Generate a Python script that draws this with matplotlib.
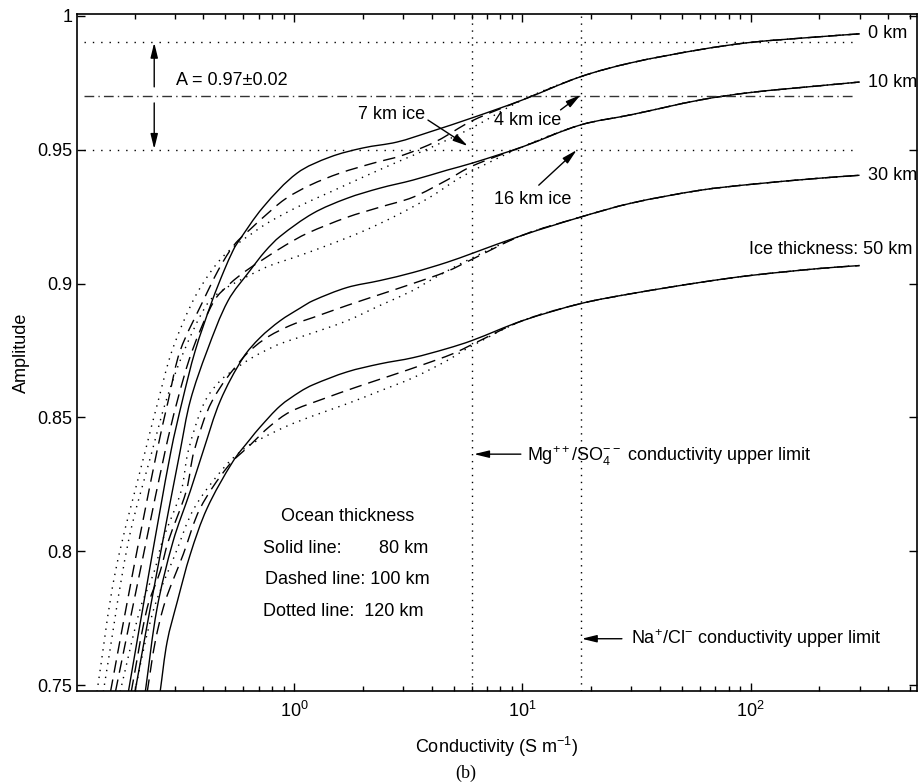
import numpy as np
import matplotlib
matplotlib.use('Agg')
import matplotlib.pyplot as plt
from matplotlib.ticker import LogLocator, NullFormatter, FixedLocator
from matplotlib.path import Path
from matplotlib.patches import PathPatch

plt.rcParams['font.family'] = ['Liberation Sans', 'DejaVu Sans']
plt.rcParams['mathtext.fontset'] = 'custom'
plt.rcParams['mathtext.rm'] = 'Liberation Sans'
plt.rcParams['mathtext.it'] = 'Liberation Sans:italic'
plt.rcParams['mathtext.bf'] = 'Liberation Sans:bold'

# ---- data ----
# high-conductivity part, common to the three ocean thicknesses
x_flat = [10, 18, 30, 60, 100, 200, 300]
y_flat_0 = [0.9685, 0.9772, 0.9824, 0.9873, 0.9900, 0.9921, 0.9932]
y_flat_10 = [0.9510, 0.9592, 0.9630, 0.9685, 0.9713, 0.9738, 0.9752]
y_flat_30 = [0.9180, 0.9248, 0.9300, 0.9348, 0.9370, 0.9393, 0.9404]
y_flat_50 = [0.8861, 0.8925, 0.8962, 0.9004, 0.9030, 0.9056, 0.9067]

# ice 0 km
x_s0 = [0.188, 0.232, 0.289, 0.324, 0.369, 0.438, 0.494, 0.541, 0.5634, 0.732, 1.031, 1.437, 2.004, 2.824, 3.937, 6.01]
y_s0 = [0.7476, 0.7925, 0.8375, 0.8562, 0.8749, 0.8936, 0.9049, 0.9124, 0.9150, 0.9285, 0.9412, 0.9472, 0.9506, 0.9528, 0.9566, 0.9618]
x_d0 = [0.157, 0.197, 0.251, 0.281, 0.317, 0.400, 0.465, 0.525, 0.569, 0.642, 0.724, 0.913, 1.175, 1.589, 2.217, 2.999, 4.226, 6.01]
y_d0 = [0.7476, 0.7925, 0.8375, 0.8562, 0.8749, 0.8936, 0.9049, 0.9124, 0.9161, 0.9202, 0.9243, 0.9315, 0.9367, 0.9412, 0.9449, 0.9479, 0.9532, 0.9607]
x_o0 = [0.137, 0.165, 0.223, 0.254, 0.292, 0.361, 0.429, 0.494, 0.569, 0.655, 0.762, 1.031, 1.437, 2.004, 2.824, 3.937, 6.01]
y_o0 = [0.7476, 0.7925, 0.8375, 0.8562, 0.8749, 0.8936, 0.9041, 0.9105, 0.9150, 0.9187, 0.9225, 0.9285, 0.9341, 0.9397, 0.9453, 0.9506, 0.9581]

# ice 10 km
x_s10 = [0.201, 0.251, 0.317, 0.351, 0.416, 0.514, 0.642, 0.7466, 0.869, 1.211, 1.706, 2.378, 3.317, 4.673, 6.01]
y_s10 = [0.7476, 0.7925, 0.8375, 0.8562, 0.8749, 0.8936, 0.9049, 0.9120, 0.9176, 0.9262, 0.9318, 0.9356, 0.9386, 0.9423, 0.9449]
x_d10 = [0.165, 0.225, 0.2725, 0.308, 0.358, 0.447, 0.525, 0.610, 0.732, 0.913, 1.140, 1.706, 2.378, 3.317, 4.673, 6.01]
y_d10 = [0.7476, 0.8037, 0.8375, 0.8562, 0.8749, 0.8936, 0.9000, 0.9045, 0.9090, 0.9142, 0.9187, 0.9247, 0.9285, 0.9322, 0.9386, 0.9438]
x_o10 = [0.146, 0.188, 0.239, 0.275, 0.330, 0.4204, 0.499, 0.610, 0.7695, 1.031, 1.437, 2.004, 2.824, 3.937, 5.49]
y_o10 = [0.7476, 0.8037, 0.8375, 0.8562, 0.8749, 0.8929, 0.8981, 0.9022, 0.9064, 0.9101, 0.9146, 0.9195, 0.9255, 0.9322, 0.9401]

# ice 30 km
x_s30 = [0.223, 0.251, 0.295, 0.351, 0.400, 0.475, 0.598, 0.710, 0.869, 1.062, 1.211, 1.706, 2.378, 3.317, 4.673, 6.01]
y_s30 = [0.7476, 0.7787, 0.8037, 0.8225, 0.8375, 0.8562, 0.8723, 0.8798, 0.8861, 0.8908, 0.8936, 0.8985, 0.9011, 0.9041, 0.9079, 0.9112]
x_d30 = [0.1935, 0.227, 0.259, 0.281, 0.337, 0.365, 0.438, 0.598, 0.747, 0.9605, 1.211, 1.706, 2.378, 3.317, 4.673, 6.01]
y_d30 = [0.7476, 0.7787, 0.7925, 0.8037, 0.8225, 0.8375, 0.8562, 0.8723, 0.8794, 0.8843, 0.8873, 0.8918, 0.8959, 0.9000, 0.9045, 0.9090]
x_o30 = [0.173, 0.212, 0.244, 0.2645, 0.320, 0.344, 0.4037, 0.4746, 0.5687, 0.655, 0.747, 0.869, 1.211, 1.706, 2.378, 3.317, 3.937, 5.72]
y_o30 = [0.7476, 0.7787, 0.7925, 0.8037, 0.8225, 0.8375, 0.8554, 0.8637, 0.8689, 0.8723, 0.8749, 0.8775, 0.8816, 0.8861, 0.8918, 0.8974, 0.9011, 0.9086]

# ice 50 km
x_s50 = [0.259, 0.278, 0.308, 0.351, 0.416, 0.541, 0.642, 0.710, 0.869, 1.062, 1.211, 1.706, 2.378, 3.317, 4.673, 6.01]
y_s50 = [0.7476, 0.7663, 0.7813, 0.7989, 0.8161, 0.8337, 0.8419, 0.8464, 0.8543, 0.8596, 0.8622, 0.8670, 0.8700, 0.8723, 0.8757, 0.8787]
x_d50 = [0.2274, 0.2465, 0.2725, 0.327, 0.388, 0.514, 0.642, 0.7853, 0.9605, 1.339, 1.887, 2.630, 3.670, 4.966, 6.01]
y_d50 = [0.7476, 0.7663, 0.7813, 0.7989, 0.8161, 0.8318, 0.8397, 0.8468, 0.8521, 0.8569, 0.8614, 0.8655, 0.8697, 0.8738, 0.8772]
x_o50 = [0.201, 0.223, 0.249, 0.3014, 0.365, 0.499, 0.610, 0.710, 0.932, 1.211, 1.706, 2.378, 3.317, 4.673, 5.72]
y_o50 = [0.7476, 0.7663, 0.7813, 0.7989, 0.8161, 0.8318, 0.8386, 0.8419, 0.8468, 0.8506, 0.8551, 0.8599, 0.8648, 0.8712, 0.8757]

ice_labels = ['0 km', '10 km', '30 km', 'Ice thickness: 50 km']
amp_levels = [0.99, 0.97, 0.95]
cond_limits = [6.0, 18.0]
y_ticks = [0.75, 0.8, 0.85, 0.9, 0.95, 1.0]
y_ticklabels = ['0.75', '0.8', '0.85', '0.9', '0.95', '1']


def smooth_path(xs, ys):
    """Smooth Bezier path passing through the read points (log-x space)."""
    lx = np.log10(np.asarray(xs, float))
    yy = np.asarray(ys, float)
    P = np.column_stack([lx, yy])
    S = np.array([228.5, 2680.0])
    d = np.sqrt((((P[1:] - P[:-1]) * S) ** 2).sum(axis=1))
    d[d == 0] = 1e-6
    t = np.concatenate([[0], np.cumsum(d)])
    n = len(P)
    m = np.zeros_like(P)
    for i in range(n):
        a = max(i - 1, 0)
        b = min(i + 1, n - 1)
        m[i] = (P[b] - P[a]) / (t[b] - t[a])
    verts = [P[0]]
    codes = [Path.MOVETO]
    for i in range(n - 1):
        h = t[i + 1] - t[i]
        verts += [P[i] + m[i] * h / 3, P[i + 1] - m[i + 1] * h / 3, P[i + 1]]
        codes += [Path.CURVE4] * 3
    V = np.array(verts)
    V[:, 0] = 10 ** V[:, 0]
    return Path(V, codes)


# ---- figure ----
fig = plt.figure(figsize=(9.18, 7.82), dpi=100)
ax = fig.add_axes([0.0839, 0.1164, 0.9145, 0.8657])
ax.set_xscale('log')
ax.set_xlim(0.112, 533)
ax.set_ylim(0.7479, 1.0006)

dash = (0, (9, 5))
dot = (0, (1, 4))
groups = [
    (x_s0, y_s0, x_d0, y_d0, x_o0, y_o0, y_flat_0),
    (x_s10, y_s10, x_d10, y_d10, x_o10, y_o10, y_flat_10),
    (x_s30, y_s30, x_d30, y_d30, x_o30, y_o30, y_flat_30),
    (x_s50, y_s50, x_d50, y_d50, x_o50, y_o50, y_flat_50),
]
for xs, ys, xd, yd, xo, yo, yf in groups:
    for xx, yy, ls in ((xo, yo, dot), (xd, yd, dash), (xs, ys, '-')):
        p = smooth_path(list(xx) + x_flat, list(yy) + yf)
        ax.add_patch(PathPatch(p, fill=False, edgecolor='k', lw=1.0, linestyle=ls,
                               capstyle='butt'))

# reference lines
ax.plot([0.12, 290], [amp_levels[0]] * 2, color='k', lw=1.0, linestyle=(0, (1, 5)))
ax.plot([0.12, 290], [amp_levels[1]] * 2, color='#333333', lw=1.0, linestyle=(0, (7, 3, 1, 3)))
ax.plot([0.12, 290], [amp_levels[2]] * 2, color='k', lw=1.0, linestyle=(0, (1, 5)))
for xc in cond_limits:
    ax.axvline(xc, color='k', lw=1.0, linestyle=dot)

# ticks
ax.set_yticks(y_ticks)
ax.set_yticklabels(y_ticklabels)
ax.xaxis.set_major_locator(FixedLocator([1, 10, 100]))
ax.xaxis.set_minor_locator(LogLocator(base=10, subs=range(2, 10), numticks=20))
ax.xaxis.set_minor_formatter(NullFormatter())
ax.tick_params(which='both', direction='in', top=True, right=True, labelsize=13)
ax.tick_params(which='major', length=6, width=1.0)
ax.tick_params(which='minor', length=3.5, width=1.0)
ax.tick_params(axis='x', which='major', pad=7)
for sp in ax.spines.values():
    sp.set_linewidth(1.2)

ax.set_xlabel('Conductivity (S m$^{-1}$)', fontsize=13, labelpad=10)
ax.set_ylabel('Amplitude', fontsize=13, labelpad=5)

fs = 13
ap = dict(arrowstyle='-|>,head_length=0.9,head_width=0.22', color='k', lw=1.0,
          shrinkA=0, shrinkB=0)

# A band
ax.annotate('', xy=(0.244, 0.9899), xytext=(0.244, 0.9734), arrowprops=ap)
ax.annotate('', xy=(0.244, 0.9502), xytext=(0.244, 0.9674), arrowprops=ap)
ax.text(0.305, 0.9757, 'A = 0.97\u00b10.02', fontsize=fs, va='center', ha='left')

# ice thickness annotations
ax.text(1.905, 0.9629, '7 km ice', fontsize=fs, va='center', ha='left')
ax.annotate('', xy=(5.77, 0.9513), xytext=(3.86, 0.9610), arrowprops=ap)
ax.text(7.5, 0.9610, '4 km ice', fontsize=fs, va='center', ha='left')
ax.annotate('', xy=(18.0, 0.9704), xytext=(14.7, 0.9648), arrowprops=ap)
ax.text(7.5, 0.9315, '16 km ice', fontsize=fs, va='center', ha='left')
ax.annotate('', xy=(17.3, 0.9498), xytext=(11.8, 0.9367), arrowprops=ap)

ax.text(328, 0.9933, ice_labels[0], fontsize=fs, va='center', ha='left')
ax.text(328, 0.9749, ice_labels[1], fontsize=fs, va='center', ha='left')
ax.text(328, 0.9404, ice_labels[2], fontsize=fs, va='center', ha='left')
ax.text(98, 0.9127, ice_labels[3], fontsize=fs, va='center', ha='left')

# conductivity limits
ax.annotate('', xy=(6.14, 0.8363), xytext=(9.85, 0.8363), arrowprops=ap)
ax.text(10.47, 0.8355, 'Mg$^{++}$/SO$_4^{--}$ conductivity upper limit', fontsize=fs,
        va='center', ha='left')
ax.annotate('', xy=(18.2, 0.7674), xytext=(27.3, 0.7674), arrowprops=ap)
ax.text(29.85, 0.7674, 'Na$^{+}$/Cl$^{-}$ conductivity upper limit', fontsize=fs,
        va='center', ha='left')

# ocean thickness legend text
ax.text(1.723, 0.8131, 'Ocean thickness', fontsize=fs, va='center', ha='center')
ax.text(0.732, 0.8011, 'Solid line:', fontsize=fs, va='center', ha='left')
ax.text(3.86, 0.8011, '80 km', fontsize=fs, va='center', ha='right')
ax.text(0.746, 0.7895, 'Dashed line: 100 km', fontsize=fs, va='center', ha='left')
ax.text(0.732, 0.7775, 'Dotted line:  120 km', fontsize=fs, va='center', ha='left')

fig.text(466 / 918, 1 - 773 / 782, '(b)', fontsize=13, family=['Liberation Serif', 'DejaVu Serif'],
         ha='center', va='center')

fig.savefig('out.png', dpi=100)
